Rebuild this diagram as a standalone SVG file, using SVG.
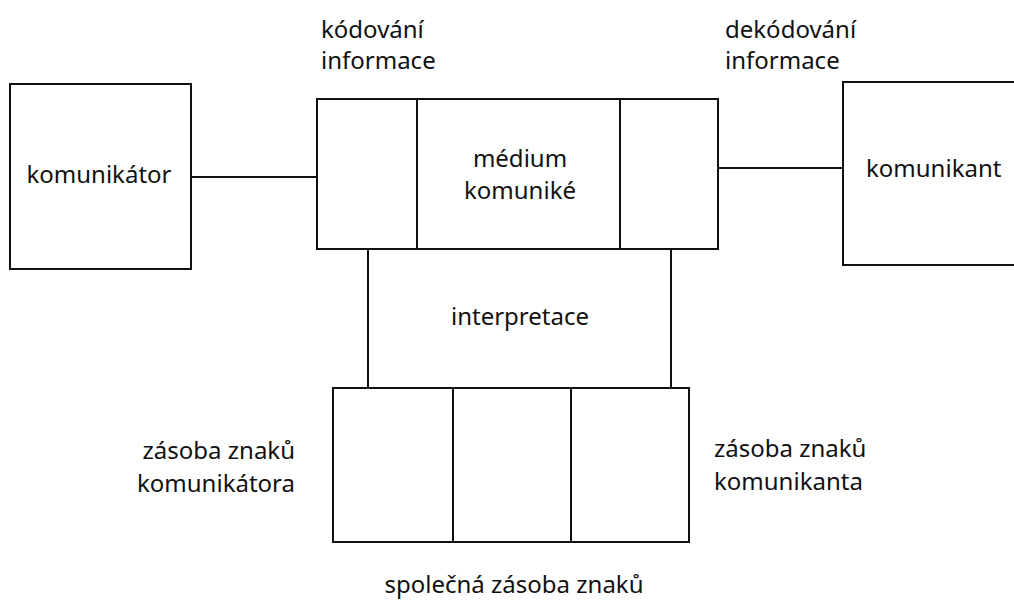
<svg xmlns="http://www.w3.org/2000/svg" width="1014" height="607" viewBox="0 0 1014 607">
<style>
.b{fill:#fff;stroke:#111;stroke-width:2}
.l{stroke:#111;stroke-width:2;fill:none}
text{font-family:"Noto Sans","Open Sans",sans-serif;font-size:24px;fill:#111}
.m{text-anchor:middle}
.e{text-anchor:end}
</style>
<rect width="1014" height="607" fill="#fff"/>
<g id="connectors">
<line class="l" x1="191" y1="177" x2="317" y2="177"/>
<line class="l" x1="718" y1="168" x2="843" y2="168"/>
<line class="l" x1="368" y1="249" x2="368" y2="388"/>
<line class="l" x1="671" y1="249" x2="671" y2="388"/>
</g>
<g id="komunikator">
<rect class="b" x="10" y="84" width="181" height="185"/>
<text class="m" x="99" y="183">komunikátor</text>
</g>
<g id="kodovani">
<rect class="b" x="317" y="99" width="100" height="150"/>
<text x="321" y="38">kódování</text>
<text x="321" y="69">informace</text>
</g>
<g id="medium">
<rect class="b" x="417" y="99" width="203" height="150"/>
<text class="m" x="520" y="167">médium</text>
<text class="m" x="520" y="199">komuniké</text>
</g>
<g id="dekodovani">
<rect class="b" x="620" y="99" width="98" height="150"/>
<text x="725" y="38">dekódování</text>
<text x="725" y="69">informace</text>
</g>
<g id="komunikant">
<rect class="b" x="843" y="82" width="190" height="183"/>
<text x="866" y="177">komunikant</text>
</g>
<g id="interpretace">
<text class="m" x="520" y="325">interpretace</text>
</g>
<g id="zasoba-komunikatora">
<rect class="b" x="333" y="388" width="120" height="154"/>
<text class="e" x="295" y="459">zásoba znaků</text>
<text class="e" x="295" y="492">komunikátora</text>
</g>
<g id="spolecna">
<rect class="b" x="453" y="388" width="118" height="154"/>
<text class="m" x="514" y="593">společná zásoba znaků</text>
</g>
<g id="zasoba-komunikanta">
<rect class="b" x="571" y="388" width="118" height="154"/>
<text x="714" y="457">zásoba znaků</text>
<text x="714" y="490">komunikanta</text>
</g>
</svg>
